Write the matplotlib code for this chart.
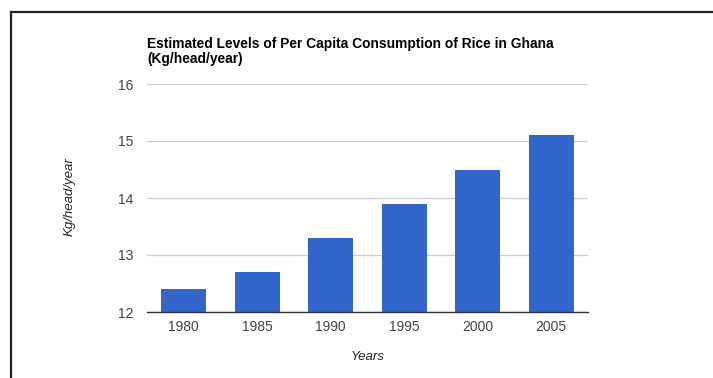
import matplotlib

matplotlib.use("Agg")
import matplotlib.pyplot as plt
from matplotlib.lines import Line2D

plt.rcParams["font.family"] = "Liberation Sans"

years = ["1980", "1985", "1990", "1995", "2000", "2005"]
consumption = [12.4, 12.7, 13.3, 13.9, 14.5, 15.1]
y_ticks = [12, 13, 14, 15, 16]

W, H = 713, 378
fig = plt.figure(figsize=(W / 100, H / 100), dpi=100)
fig.patch.set_facecolor("white")

# plot area in pixel coordinates
left, right, top, bottom = 147, 588, 84, 312
ax = fig.add_axes([left / W, 1 - bottom / H, (right - left) / W, (bottom - top) / H])

x = range(len(years))
ax.bar(x, consumption, width=0.61, color="#3366cc", zorder=3)
ax.set_xlim(-0.5, len(years) - 0.5)
ax.set_ylim(12, 16)
ax.set_xticks(list(x))
ax.set_xticklabels(years)
ax.set_yticks(y_ticks)

for s in ("top", "right", "left"):
    ax.spines[s].set_visible(False)
ax.spines["bottom"].set_color("#333333")
ax.spines["bottom"].set_linewidth(1.0)
ax.spines["bottom"].set_zorder(4)
ax.grid(axis="y", color="#cccccc", linewidth=0.9, zorder=0)
ax.tick_params(axis="both", length=0, labelcolor="#444444", labelsize=10)
ax.tick_params(axis="y", pad=10)
ax.tick_params(axis="x", pad=6)

fig.text(left / W, 1 - 37 / H,
         "Estimated Levels of Per Capita Consumption of Rice in Ghana\n(Kg/head/year)",
         ha="left", va="top", fontsize=9.9, fontweight="bold",
         color="#000000", linespacing=1.1)
fig.text(70 / W, 1 - 197 / H, "Kg/head/year", rotation=90, ha="center", va="center",
         fontsize=9.5, style="italic", color="#222222")
fig.text(368 / W, 1 - 357 / H, "Years", ha="center", va="center",
         fontsize=9.5, style="italic", color="#222222")

# frame lines along the top and left edge
fig.add_artist(Line2D([11 / W, 1], [1 - 12 / H, 1 - 12 / H], color="#222222", linewidth=1.6))
fig.add_artist(Line2D([11 / W, 11 / W], [0, 1 - 12 / H], color="#222222", linewidth=1.6))

fig.savefig("out.png", dpi=100)
